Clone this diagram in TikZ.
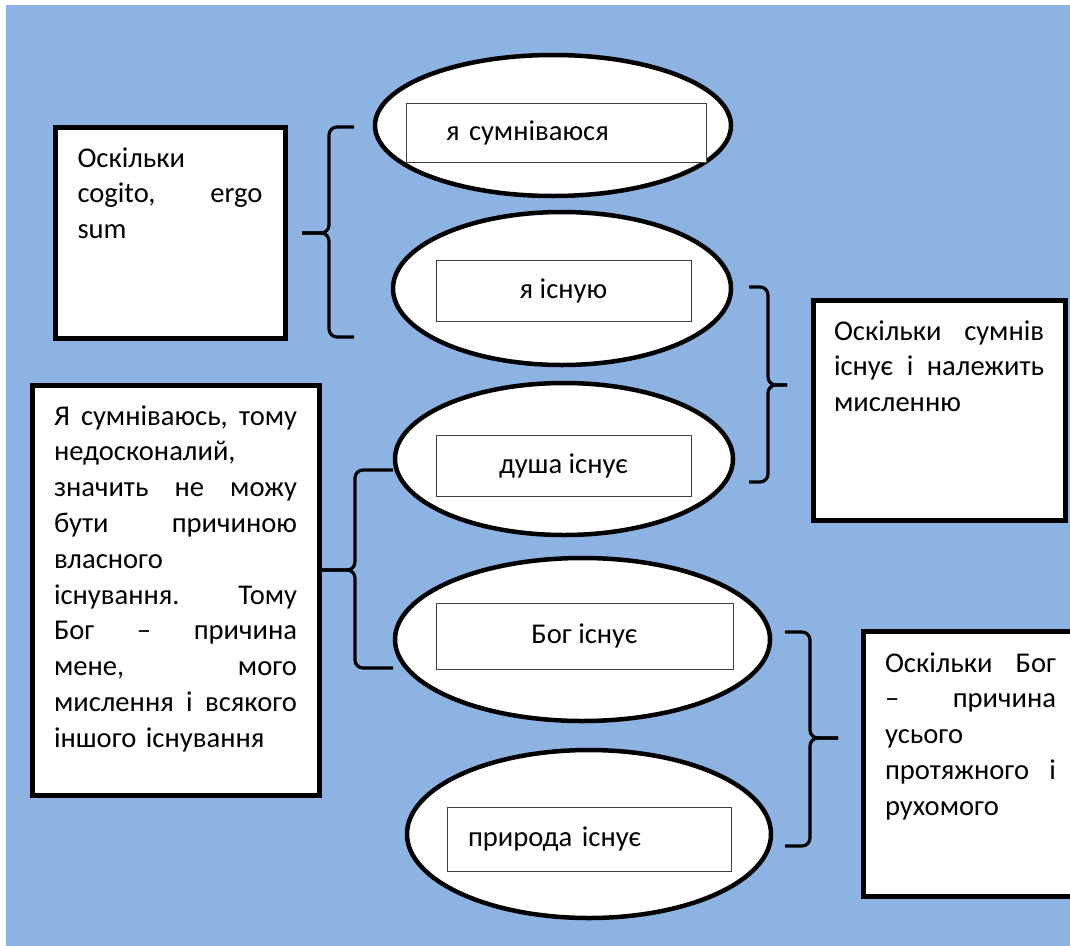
\documentclass[tikz,border=0pt]{standalone}
\usepackage{fontspec}
\setmainfont{Carlito}
\usepackage{tikz}
\usetikzlibrary{shapes.geometric, calc}
\definecolor{sheetblue}{RGB}{141,179,226}

\begin{document}
\begin{tikzpicture}[x=1pt, y=-1pt,
  every node/.style={font=\fontsize{28.6}{35.8}\selectfont},
  framebox/.style={draw, line width=5pt, fill=white, anchor=north west, outer sep=0pt, inner ysep=0pt, inner xsep=22pt, align=left, text height=40pt},
  oval/.style={ellipse, draw, line width=4.5pt, fill=white, inner sep=0pt, outer sep=0pt},
  tag/.style={draw=black!75, line width=1pt, fill=white, inner sep=0pt, text height=21pt, text depth=6pt},
  curly/.style={line width=3.2pt, rounded corners=8pt}
]
  \useasboundingbox (0,0) rectangle (1070,945);
  \clip (0,0) rectangle (1070,945);
  \fill[sheetblue] (6,5) rectangle (1080,950);

  \node[framebox, text width=185pt, inner xsep=22.5pt, text depth=171pt] (cogito) at (55,127)
    {Оскільки\\ cogito, \hfill ergo\\ sum};

  \node[framebox, text width=243pt, text depth=370pt] (cause) at (32,385)
    {\hbox to \linewidth{Я \hfill сумніваюсь, \hfill тому}\\ недосконалий,\\ значить \hfill не \hfill можу\\
     бути \hfill причиною\\ власного\\ існування. \hfill Тому\\ Бог \hfill – \hfill причина\\
     мене, \hfill мого\\ мислення \hfill і \hfill всякого\\ іншого існування};

  \node[framebox, text width=210pt, inner xsep=21pt, text depth=180pt] (thought) at (813,300)
    {Оскільки \hfill сумнів\\ існує \hfill і \hfill належить\\ мисленню};

  \node[framebox, text width=171pt, text height=41pt, text depth=224pt] (world) at (863,631)
    {Оскільки \hfill Бог\\ – \hfill причина\\ усього\\ протяжного \hfill і\\ рухомого};

  \coordinate (aTop) at (354,127);
  \coordinate (aBot) at (354,337);
  \coordinate (aTip) at (302,233);
  \coordinate (bTop) at (749,287);
  \coordinate (bBot) at (749,482);
  \coordinate (bTip) at (787,385);
  \coordinate (cTop) at (393,470);
  \coordinate (cBot) at (393,668);
  \coordinate (cTip) at (322,570);
  \coordinate (dTop) at (785,632);
  \coordinate (dBot) at (785,846);
  \coordinate (dTip) at (838,738);

  \draw[curly] (aTop) -| ([xshift=27pt]aTip) -- (aTip);
  \draw[curly] (aBot) -| ([xshift=27pt]aTip) -- (aTip);
  \draw[curly] (bTop) -| ([xshift=-19pt]bTip) -- (bTip);
  \draw[curly] (bBot) -| ([xshift=-19pt]bTip) -- (bTip);
  \draw[curly] (cTop) -| ([xshift=33pt]cTip) -- (cTip);
  \draw[curly] (cBot) -| ([xshift=33pt]cTip) -- (cTip);
  \draw[curly] (dTop) -| ([xshift=-28pt]dTip) -- (dTip);
  \draw[curly] (dBot) -| ([xshift=-28pt]dTip) -- (dTip);

  \node[oval, minimum width=356pt, minimum height=141pt] (doubt) at (553,125.5) {};
  \node[oval, minimum width=338pt, minimum height=153pt] (exist) at (562,288.5) {};
  \node[oval, minimum width=338pt, minimum height=152pt] (soul) at (564,459) {};
  \node[oval, minimum width=375pt, minimum height=163pt] (god) at (582.5,639.5) {};
  \node[oval, minimum width=364pt, minimum height=168pt] (nature) at (589,834) {};

  \node[tag, text width=220pt, inner xsep=40pt, align=left, minimum height=59pt] (doubtTag) at (556,132.5) {я сумніваюся};
  \node[tag, minimum width=255pt, minimum height=61pt] (existTag) at (563.5,290.5) {я існую};
  \node[tag, minimum width=255pt, minimum height=61pt] (soulTag) at (563.5,465.5) {душа існує};
  \node[tag, minimum width=297pt, minimum height=66pt] (godTag) at (584.5,636) {Бог існує};
  \node[tag, text width=242pt, inner xsep=21pt, align=left, minimum height=64pt] (natureTag) at (589,839) {природа існує};
\end{tikzpicture}
\end{document}
